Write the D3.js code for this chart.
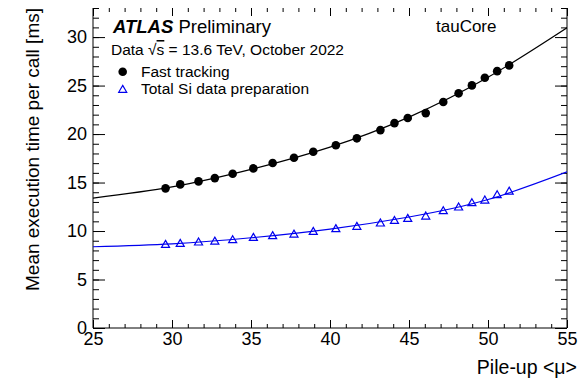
<!DOCTYPE html>
<html>
<head>
<meta charset="utf-8">
<script src="https://cdn.jsdelivr.net/npm/d3@7"></script>
<style>
  html, body { margin: 0; padding: 0; background: #fff; }
  svg { display: block; font-family: "Liberation Sans", Arial, Helvetica, sans-serif; }
</style>
</head>
<body>
<div id="chart"></div>
<script>
// pile-up values of the measured points
const pileup = [29.59, 30.52, 31.68, 32.71, 33.84, 35.15, 36.37, 37.72, 38.94, 40.37,
  41.7, 43.19, 44.08, 44.92, 46.06, 47.17, 48.14, 48.98, 49.8, 50.58, 51.34];
const fastTracking = [14.40, 14.81, 15.12, 15.46, 15.91, 16.46, 17.01, 17.56, 18.18, 18.84,
  19.56, 20.41, 21.13, 21.65, 22.16, 23.30, 24.20, 25.02, 25.80, 26.49, 27.08];
const siDataPrep = [8.66, 8.76, 8.90, 9.00, 9.14, 9.38, 9.56, 9.72, 10.00, 10.28,
  10.52, 10.86, 11.13, 11.34, 11.58, 12.13, 12.51, 12.96, 13.23, 13.78, 14.15];

// fitted curves
const fitMu = [25, 30, 35, 40, 45, 50, 55];
const fitFast = [13.4, 14.55, 16.35, 18.65, 21.75, 25.85, 30.96];
const fitSi = [8.38, 8.68, 9.3, 10.2, 11.45, 13.25, 16.1];

const xMajor = [25, 30, 35, 40, 45, 50, 55];
const yMajor = [0, 5, 10, 15, 20, 25, 30];

const width = 579, height = 380;
const plot = { left: 93, right: 567, top: 8, bottom: 328 };

const svg = d3.select('#chart').append('svg')
  .attr('width', width)
  .attr('height', height);

const x = d3.scaleLinear().domain([25, 55]).range([plot.left, plot.right]);
const y = d3.scaleLinear().domain([0, 33]).range([plot.bottom, plot.top]);

// clip for the fit lines
svg.append('clipPath').attr('id', 'plot')
  .append('rect')
  .attr('x', plot.left).attr('y', plot.top)
  .attr('width', plot.right - plot.left).attr('height', plot.bottom - plot.top);

function styleAxis(g) {
  g.select('.domain').remove();
  g.selectAll('.tick line').attr('stroke', '#000').attr('stroke-width', 1);
  g.selectAll('.tick text')
    .attr('fill', '#000')
    .style('font-size', '18px')
    .style('font-family', '"Liberation Sans", Arial, Helvetica, sans-serif');
}

// bottom axis
svg.append('g')
  .attr('transform', `translate(0,${plot.bottom})`)
  .call(d3.axisBottom(x).tickValues(d3.range(25, 56, 1)).tickSize(-4).tickFormat(''))
  .call(styleAxis);
svg.append('g')
  .attr('transform', `translate(0,${plot.bottom})`)
  .call(d3.axisBottom(x).tickValues(xMajor).tickSize(-8).tickPadding(4).tickFormat(d3.format('d')))
  .call(styleAxis);

// top axis (ticks only)
svg.append('g')
  .attr('transform', `translate(0,${plot.top})`)
  .call(d3.axisTop(x).tickValues(d3.range(25, 56, 1)).tickSize(-4).tickFormat(''))
  .call(styleAxis);
svg.append('g')
  .attr('transform', `translate(0,${plot.top})`)
  .call(d3.axisTop(x).tickValues(xMajor).tickSize(-8).tickFormat(''))
  .call(styleAxis);

// left axis
svg.append('g')
  .attr('transform', `translate(${plot.left},0)`)
  .call(d3.axisLeft(y).tickValues(d3.range(0, 34, 1)).tickSize(-6).tickFormat(''))
  .call(styleAxis);
svg.append('g')
  .attr('transform', `translate(${plot.left},0)`)
  .call(d3.axisLeft(y).tickValues(yMajor).tickSize(-12).tickPadding(6).tickFormat(d3.format('d')))
  .call(styleAxis);

// right axis (ticks only)
svg.append('g')
  .attr('transform', `translate(${plot.right},0)`)
  .call(d3.axisRight(y).tickValues(d3.range(0, 34, 1)).tickSize(-6).tickFormat(''))
  .call(styleAxis);
svg.append('g')
  .attr('transform', `translate(${plot.right},0)`)
  .call(d3.axisRight(y).tickValues(yMajor).tickSize(-12).tickFormat(''))
  .call(styleAxis);

// frame: left, bottom and right sides (top edge is cut off in the picture)
svg.append('path')
  .attr('d', `M${plot.left},${plot.top}V${plot.bottom}H${plot.right}V${plot.top}`)
  .attr('fill', 'none')
  .attr('stroke', '#000')
  .attr('stroke-width', 1);

// fit curves
const line = d3.line()
  .x(d => x(d[0]))
  .y(d => y(d[1]))
  .curve(d3.curveNatural);

svg.append('path')
  .datum(fitMu.map((m, i) => [m, fitFast[i]]))
  .attr('clip-path', 'url(#plot)')
  .attr('d', line)
  .attr('fill', 'none')
  .attr('stroke', '#000')
  .attr('stroke-width', 1.2);

svg.append('path')
  .datum(fitMu.map((m, i) => [m, fitSi[i]]))
  .attr('clip-path', 'url(#plot)')
  .attr('d', line)
  .attr('fill', 'none')
  .attr('stroke', '#0000ee')
  .attr('stroke-width', 1.1);

// markers
const tri = d3.symbol().type(d3.symbolTriangle).size(28);

svg.append('g').selectAll('circle')
  .data(pileup.map((m, i) => [m, fastTracking[i]]))
  .enter()
  .append('circle')
  .attr('cx', d => x(d[0]))
  .attr('cy', d => y(d[1]))
  .attr('r', 4.3)
  .attr('fill', '#000');

svg.append('g').selectAll('path')
  .data(pileup.map((m, i) => [m, siDataPrep[i]]))
  .enter()
  .append('path')
  .attr('transform', d => `translate(${x(d[0])},${y(d[1]) + 1})`)
  .attr('d', tri)
  .attr('fill', 'none')
  .attr('stroke', '#0000ee')
  .attr('stroke-width', 1.2);

// axis titles
svg.append('text')
  .attr('x', 577).attr('y', 374)
  .attr('text-anchor', 'end')
  .style('font-size', '19.5px')
  .text('Pile-up <μ>');

svg.append('text')
  .attr('transform', 'translate(39,8) rotate(-90)')
  .attr('text-anchor', 'end')
  .style('font-size', '19px')
  .text('Mean execution time per call [ms]');

// labels
const atlas = svg.append('text')
  .attr('x', 113).attr('y', 33)
  .style('font-size', '18.5px');
atlas.append('tspan').style('font-weight', 'bold').style('font-style', 'italic').text('ATLAS');
atlas.append('tspan').text(' Preliminary');

const dataLabel = svg.append('text')
  .attr('x', 111).attr('y', 55)
  .style('font-size', '15.5px');
dataLabel.append('tspan').text('Data √');
dataLabel.append('tspan').style('text-decoration', 'overline').text('s');
dataLabel.append('tspan').text(' = 13.6 TeV, October 2022');

svg.append('text')
  .attr('x', 436).attr('y', 32)
  .style('font-size', '17px')
  .text('tauCore');

// legend
svg.append('circle')
  .attr('cx', 122.7).attr('cy', 71.7)
  .attr('r', 4.3)
  .attr('fill', '#000');
svg.append('text')
  .attr('x', 141).attr('y', 77)
  .style('font-size', '15.5px')
  .text('Fast tracking');

svg.append('path')
  .attr('transform', 'translate(122.7,90)')
  .attr('d', tri)
  .attr('fill', 'none')
  .attr('stroke', '#0000ee')
  .attr('stroke-width', 1.2);
svg.append('text')
  .attr('x', 141).attr('y', 94)
  .style('font-size', '15.5px')
  .text('Total Si data preparation');
</script>
</body>
</html>
